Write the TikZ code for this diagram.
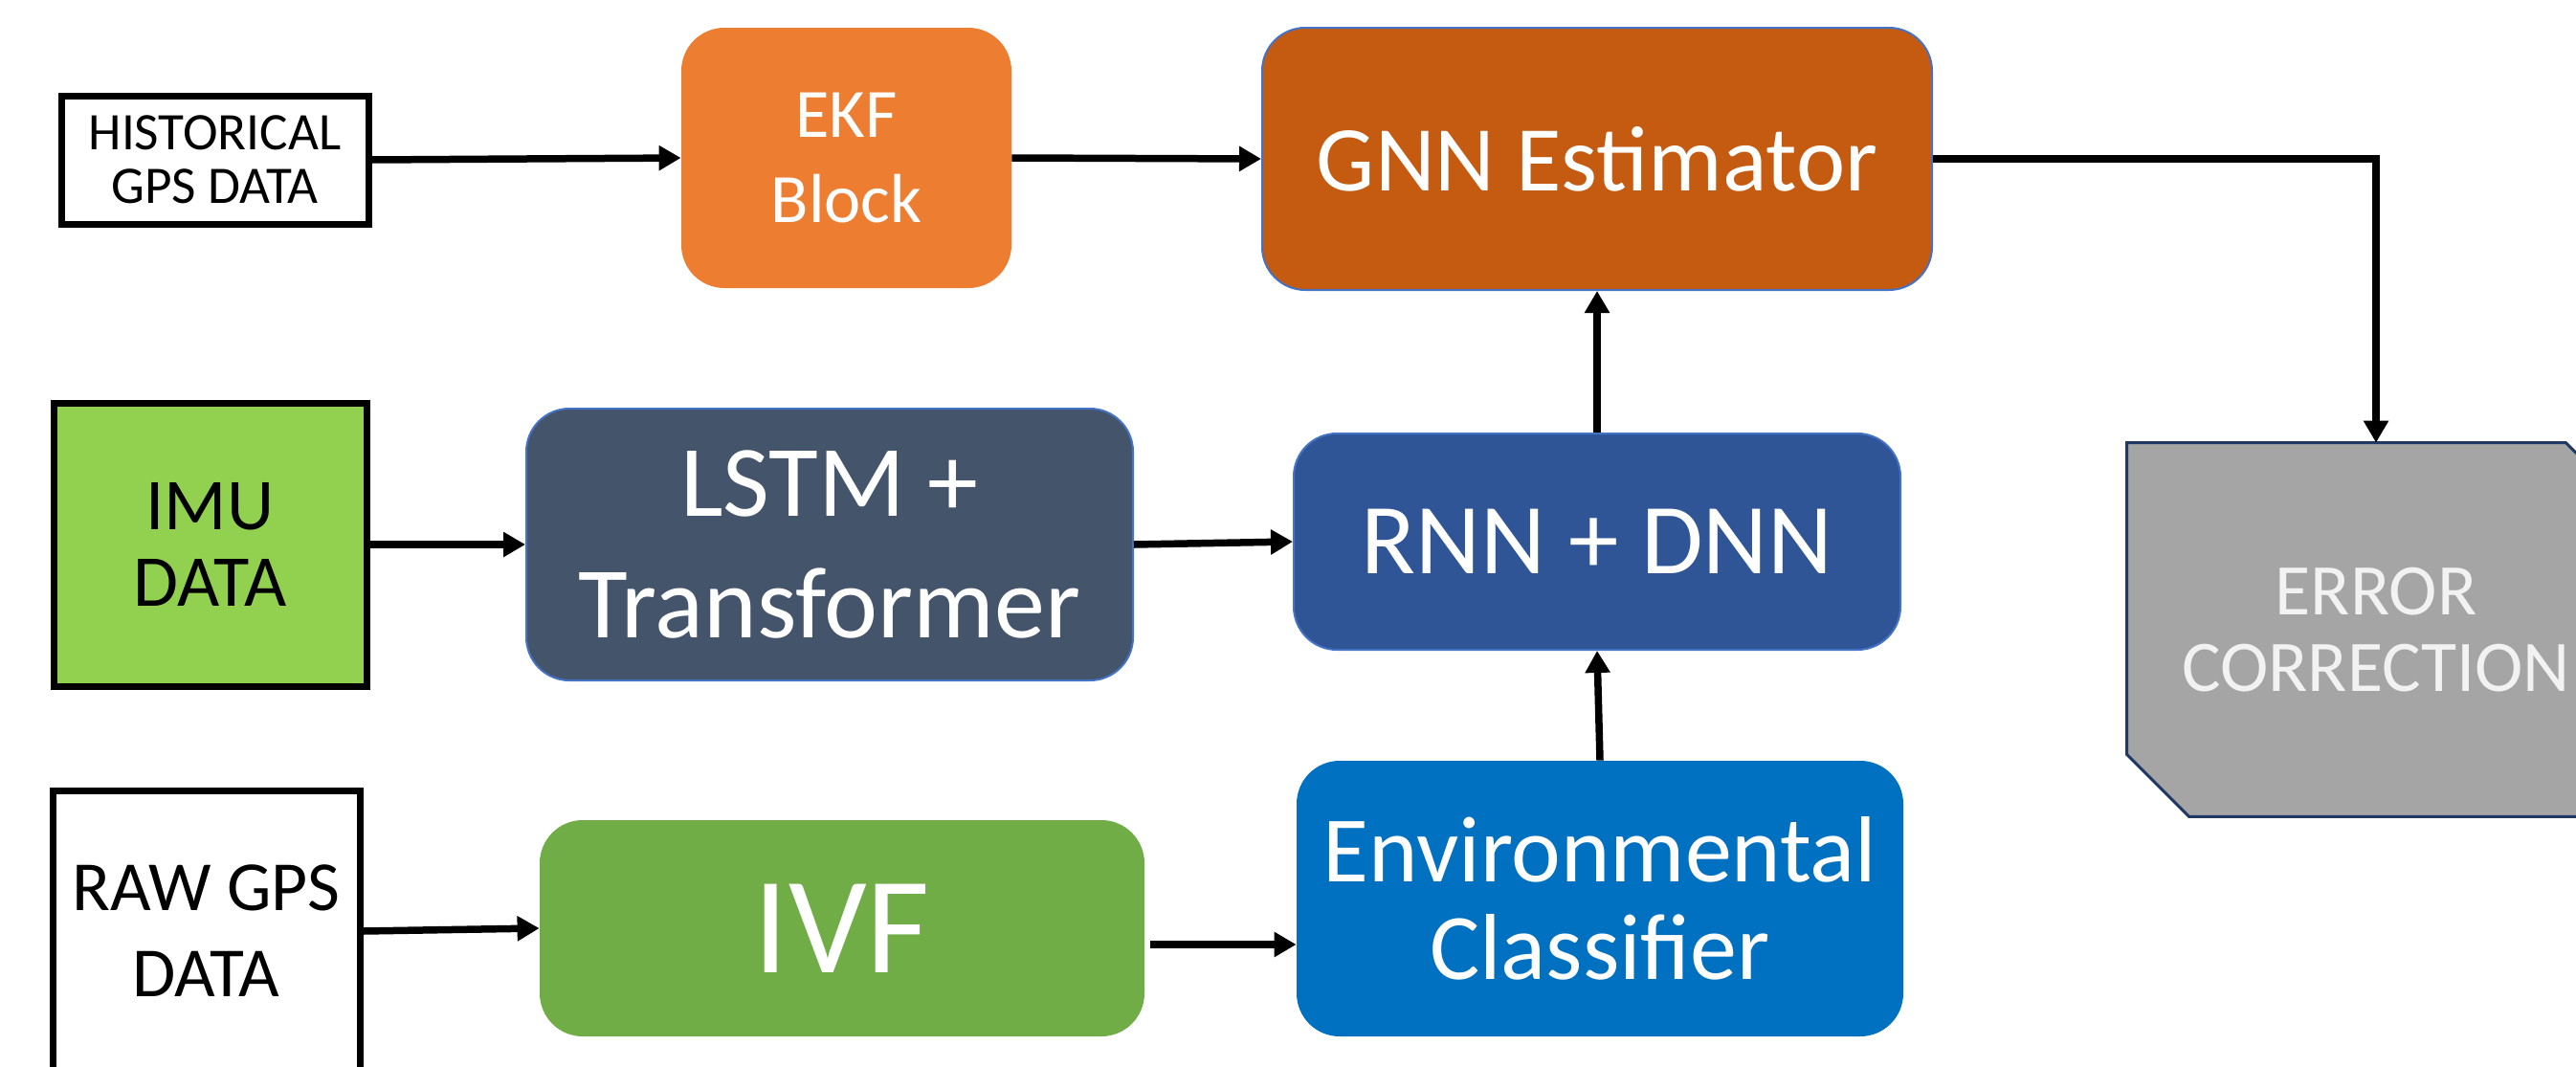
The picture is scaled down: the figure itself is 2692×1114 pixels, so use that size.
\documentclass[tikz,border=0pt]{standalone}
\usepackage{fontspec}
\setmainfont{Carlito}
\usetikzlibrary{arrows.meta,calc,backgrounds}
\definecolor{ekfc}{HTML}{ED7D31}
\definecolor{gnnc}{HTML}{C55A11}
\definecolor{lstmc}{HTML}{44546A}
\definecolor{rnnc}{HTML}{2F5597}
\definecolor{envc}{HTML}{0070C0}
\definecolor{ivfc}{HTML}{70AD47}
\definecolor{imuc}{HTML}{92D050}
\definecolor{errc}{HTML}{A5A5A5}
\definecolor{errtext}{HTML}{F2F2F2}
\definecolor{edgeblue}{HTML}{4472C4}
\definecolor{navy}{HTML}{203864}
\newcommand\myfs[2]{\fontsize{#1pt}{#2pt}\selectfont}
\begin{document}
\begin{tikzpicture}[x=0.5pt,y=-0.5pt,
  box/.style={rounded corners=22.5pt, inner sep=0pt, align=center, text=white},
  blueedge/.style={draw=edgeblue, line width=1pt},
  inbox/.style={draw=black, line width=3.5pt, inner sep=0pt, align=center, text=black},
  conn/.style={line width=3.75pt, -{Triangle[length=11.5pt,width=12.5pt]}},
]
\useasboundingbox (0,0) rectangle (2692,1114);

% input boxes
\node[inbox, fill=white, minimum width=160.5pt, minimum height=67pt, font=\myfs{27.6}{28}] (hist) at (224.5,167) {HISTORICAL\\GPS DATA};
\node[inbox, fill=imuc, minimum width=163.5pt, minimum height=148pt, font=\myfs{38.2}{40}] (imu) at (219.5,569) {IMU\\DATA};
\node[inbox, fill=white, minimum width=160.5pt, minimum height=147pt, font=\myfs{36.8}{45}] (raw) at (215.5,973) {RAW GPS\\DATA};

% processing blocks
\node[box, fill=ekfc, minimum width=172.5pt, minimum height=136pt, font=\myfs{36.2}{44.5}] (ekf) at (884.5,165) {EKF\\Block};
\node[box, blueedge, fill=gnnc, minimum width=350pt, minimum height=137pt, font=\myfs{48.5}{57}] (gnn) at (1669,166) {GNN Estimator};
\node[box, blueedge, fill=lstmc, minimum width=317pt, minimum height=142pt, font=\myfs{53}{63.5}] (lstm) at (867,569) {LSTM +\\Transformer};
\node[box, blueedge, fill=rnnc, minimum width=317pt, minimum height=113pt, font=\myfs{52.5}{62}] (rnn) at (1669,566) {RNN + DNN};
\node[box, fill=ivfc, minimum width=316pt, minimum height=113pt, font=\myfs{72}{86}] (ivf) at (880,970) {IVF};
\node[box, fill=envc, minimum width=317pt, minimum height=144pt, font=\myfs{49}{51}] (env) at (1672,939) {Environmental\\Classifier};

% error correction (snipped corners)
\node[inner sep=0pt, minimum width=260pt, minimum height=195pt, align=center, text=errtext, font=\myfs{38}{40}] (err) at (2483,658) {ERROR\\CORRECTION};
\begin{scope}[on background layer]
\draw[fill=errc, draw=navy, line width=1.5pt]
  (err.north west) -- ($(err.north east)+(-62,0)$) -- ($(err.north east)+(0,62)$)
  -- (err.south east) -- ($(err.south west)+(65,0)$) -- ($(err.south west)+(0,-65)$) -- cycle;
\end{scope}

% connectors
\draw[conn] (hist.east) -- (ekf.west);
\draw[conn] (ekf.east) -- (gnn.west);
\draw[conn] (gnn.east) -| (err.north);
\draw[conn] (imu.east) -- (lstm.west);
\draw[conn] (lstm.east) -- (rnn.west);
\draw[conn] (rnn.north) -- (gnn.south);
\draw[conn] (env.north) -- (rnn.south);
\draw[conn] (raw.east) -- (ivf.west);
\coordinate (ivfout) at ($(ivf.east)+(6,17)$);
\draw[conn] (ivfout) -- (ivfout -| env.west);
\end{tikzpicture}
\end{document}
